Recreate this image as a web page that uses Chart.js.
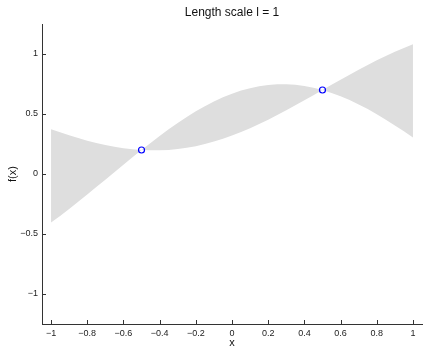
<!DOCTYPE html>
<html>
<head>
<meta charset="utf-8">
<script src="https://cdn.jsdelivr.net/npm/chart.js@4.4.0/dist/chart.umd.min.js"></script>
<style>
  html, body { margin: 0; padding: 0; background: #fff; }
  #wrap { width: 423px; height: 347px; }
</style>
</head>
<body>
<div id="wrap"><canvas id="myChart"></canvas></div>
<script>
// x positions of the band samples
const xs = [-1, -0.95, -0.9, -0.85, -0.8, -0.75, -0.7, -0.65, -0.6, -0.55, -0.5,
  -0.45, -0.4, -0.35, -0.3, -0.25, -0.2, -0.15, -0.1, -0.05, 0,
  0.05, 0.1, 0.15, 0.2, 0.25, 0.3, 0.35, 0.4, 0.45, 0.5,
  0.55, 0.6, 0.65, 0.7, 0.75, 0.8, 0.85, 0.9, 0.95, 1];

// upper and lower edge of the grey band
const upper = [0.372, 0.347, 0.322, 0.299, 0.278, 0.259, 0.242, 0.227, 0.215, 0.206, 0.2,
  0.259, 0.317, 0.372, 0.425, 0.475, 0.522, 0.565, 0.604, 0.639, 0.669,
  0.695, 0.715, 0.731, 0.742, 0.747, 0.748, 0.743, 0.734, 0.719, 0.7,
  0.743, 0.786, 0.828, 0.869, 0.909, 0.947, 0.984, 1.018, 1.051, 1.081];
const lower = [-0.405, -0.349, -0.291, -0.231, -0.171, -0.109, -0.047, 0.015, 0.078, 0.139, 0.2,
  0.197, 0.197, 0.201, 0.208, 0.218, 0.232, 0.249, 0.270, 0.293, 0.320,
  0.349, 0.381, 0.416, 0.452, 0.491, 0.531, 0.572, 0.614, 0.657, 0.7,
  0.676, 0.648, 0.616, 0.580, 0.541, 0.498, 0.453, 0.405, 0.356, 0.304];

// observed points
const obsX = [-0.5, 0.5];
const obsY = [0.2, 0.7];

const xTicks = [-1, -0.8, -0.6, -0.4, -0.2, 0, 0.2, 0.4, 0.6, 0.8, 1];
const yTicks = [-1, -0.5, 0, 0.5, 1];

const axisColor = '#333';

function fmt(v) {
  return v < 0 ? '\u2212' + String(-v) : String(v);
}

// matlab style ticks pointing into the plot
const innerTicks = {
  id: 'innerTicks',
  afterDraw(chart) {
    const ctx = chart.ctx;
    const a = chart.chartArea;
    const xs_ = chart.scales.x, ys_ = chart.scales.y;
    ctx.save();
    ctx.strokeStyle = axisColor;
    ctx.lineWidth = 1;
    ctx.beginPath();
    xTicks.forEach(v => {
      const px = Math.round(xs_.getPixelForValue(v)) + 0.5;
      ctx.moveTo(px, a.bottom);
      ctx.lineTo(px, a.bottom - 4);
    });
    yTicks.forEach(v => {
      const py = Math.round(ys_.getPixelForValue(v)) + 0.5;
      ctx.moveTo(a.left, py);
      ctx.lineTo(a.left + 4, py);
    });
    ctx.stroke();
    ctx.restore();
  }
};

const data = {
  datasets: [
    {
      type: 'line',
      data: xs.map((x, i) => ({ x: x, y: upper[i] })),
      borderWidth: 0,
      borderColor: 'rgba(0,0,0,0)',
      backgroundColor: '#dedede',
      pointRadius: 0,
      fill: '+1',
      tension: 0,
      order: 2
    },
    {
      type: 'line',
      data: xs.map((x, i) => ({ x: x, y: lower[i] })),
      borderWidth: 0,
      borderColor: 'rgba(0,0,0,0)',
      pointRadius: 0,
      fill: false,
      tension: 0,
      order: 2
    },
    {
      type: 'scatter',
      data: obsX.map((x, i) => ({ x: x, y: obsY[i] })),
      pointRadius: 3,
      pointBorderWidth: 1.2,
      pointBorderColor: '#0000ff',
      pointBackgroundColor: 'rgba(0,0,0,0)',
      order: 1
    }
  ]
};

const config = {
  type: 'scatter',
  data: data,
  plugins: [innerTicks],
  options: {
    responsive: true,
    maintainAspectRatio: false,
    animation: false,
    layout: { autoPadding: false, padding: { left: 0, right: 1, top: 0, bottom: 0 } },
    plugins: {
      legend: { display: false },
      tooltip: { enabled: false },
      title: {
        display: true,
        text: 'Length scale l = 1',
        fullSize: false,
        color: '#111',
        font: { family: 'Liberation Sans, Arial, sans-serif', size: 12, weight: 'normal' },
        padding: { top: 5, bottom: 4.6 }
      }
    },
    scales: {
      x: {
        type: 'linear',
        min: -1.05,
        max: 1.05,
        afterBuildTicks: s => { s.ticks = xTicks.map(v => ({ value: v })); },
        afterFit: s => { s.height = 23; s.paddingLeft = 0; s.paddingRight = 0; },
        grid: { drawOnChartArea: false, drawTicks: false, color: axisColor },
        border: { color: axisColor, width: 1 },
        ticks: {
          color: '#222',
          padding: 4,
          maxRotation: 0,
          font: { family: 'Liberation Sans, Arial, sans-serif', size: 9 },
          callback: v => fmt(v)
        },
        title: {
          display: true,
          text: 'x',
          color: '#111',
          font: { family: 'Liberation Sans, Arial, sans-serif', size: 11 },
          padding: { top: 0, bottom: -3 }
        }
      },
      y: {
        type: 'linear',
        min: -1.25,
        max: 1.25,
        afterBuildTicks: s => { s.ticks = yTicks.map(v => ({ value: v })); },
        afterFit: s => { s.width = 42; s.paddingTop = 0; s.paddingBottom = 0; },
        grid: { drawOnChartArea: false, drawTicks: false, color: axisColor },
        border: { color: axisColor, width: 1 },
        ticks: {
          color: '#222',
          padding: 4,
          font: { family: 'Liberation Sans, Arial, sans-serif', size: 9 },
          callback: v => fmt(v)
        },
        title: {
          display: true,
          text: 'f(x)',
          color: '#111',
          font: { family: 'Liberation Sans, Arial, sans-serif', size: 11 },
          padding: { top: 6, bottom: 0 }
        }
      }
    }
  }
};

const myChart = new Chart(document.getElementById('myChart'), config);
</script>
</body>
</html>
